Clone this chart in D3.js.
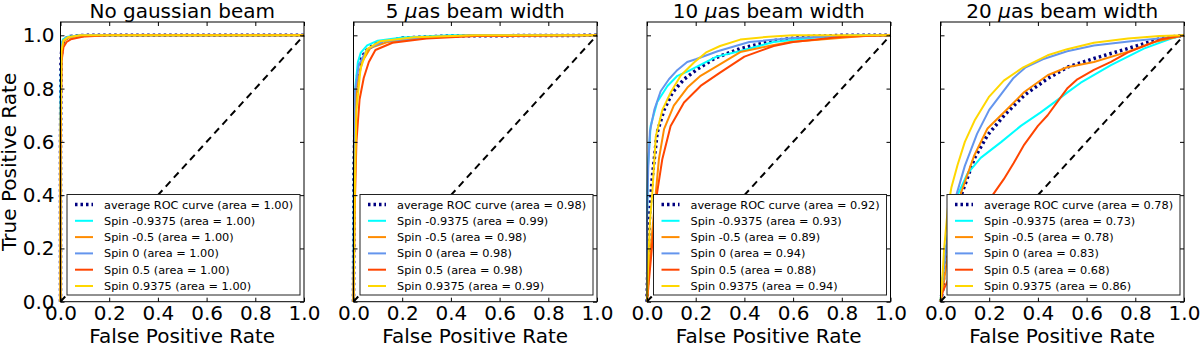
<!DOCTYPE html>
<html>
<head>
<meta charset="utf-8">
<script src="https://cdn.jsdelivr.net/npm/d3@7"></script>
<style>
  body { margin: 0; background: #fff; }
  svg { display: block; font-family: "DejaVu Sans", sans-serif; }
</style>
</head>
<body>
<svg id="chart" width="1200" height="350"></svg>
<script>
// panel titles (the "μ" is set in italics like matplotlib mathtext)
var panelTitles = [
    ["No gaussian beam"],
    ["5 ", "μ", "as beam width"],
    ["10 ", "μ", "as beam width"],
    ["20 ", "μ", "as beam width"]
];

var seriesLabels = ["average ROC curve", "Spin -0.9375", "Spin -0.5", "Spin 0", "Spin 0.5", "Spin 0.9375"];
var seriesColors = ["#000080", "#00ffff", "#ff8c00", "#6495ed", "#ff4500", "#ffd700"];

// area under curve per panel, same order as seriesLabels
var areas = [
    [1.00, 1.00, 1.00, 1.00, 1.00, 1.00],
    [0.98, 0.99, 0.98, 0.98, 0.98, 0.99],
    [0.92, 0.93, 0.89, 0.94, 0.88, 0.94],
    [0.78, 0.73, 0.78, 0.83, 0.68, 0.86]
];

var xTicks = [0, 0.2, 0.4, 0.6, 0.8, 1.0];
var yTicks = [0, 0.2, 0.4, 0.6, 0.8, 1.0];

// [fpr, tpr] points
var rocNoBeam = [
    [[0,0],[0,0.6],[0.002,0.9],[0.006,0.96],[0.015,0.985],[0.04,0.996],[0.1,1],[1,1]],
    [[0,0],[0,0.75],[0.003,0.96],[0.01,0.985],[0.03,0.995],[0.08,1],[1,1]],
    [[0,0],[0,0.6],[0.004,0.93],[0.012,0.975],[0.03,0.99],[0.08,0.998],[0.2,1],[1,1]],
    [[0,0],[0,0.7],[0.003,0.95],[0.01,0.98],[0.03,0.993],[0.08,1],[1,1]],
    [[0,0],[0,0.5],[0.004,0.9],[0.012,0.955],[0.025,0.975],[0.042,0.985],[0.1,0.996],[0.2,1],[1,1]],
    [[0,0],[0,0.6],[0.004,0.94],[0.012,0.98],[0.03,0.993],[0.08,1],[1,1]]
];

var roc5 = [
    [[0,0],[0.002,0.5],[0.008,0.75],[0.018,0.86],[0.035,0.92],[0.06,0.95],[0.1,0.972],[0.2,0.99],[0.4,0.998],[1,1]],
    [[0,0],[0.002,0.6],[0.008,0.81],[0.018,0.9],[0.03,0.935],[0.056,0.962],[0.1,0.98],[0.2,0.992],[0.4,1],[1,1]],
    [[0,0],[0.004,0.55],[0.012,0.8],[0.035,0.9],[0.07,0.953],[0.14,0.975],[0.3,0.992],[0.5,1],[1,1]],
    [[0,0],[0.002,0.55],[0.005,0.78],[0.022,0.89],[0.056,0.948],[0.125,0.978],[0.3,0.993],[0.5,1],[1,1]],
    [[0,0],[0.005,0.35],[0.012,0.6],[0.025,0.76],[0.042,0.84],[0.063,0.9],[0.09,0.945],[0.16,0.972],[0.3,0.988],[0.5,0.997],[1,1]],
    [[0,0],[0.006,0.45],[0.012,0.72],[0.029,0.875],[0.056,0.948],[0.11,0.978],[0.25,0.993],[0.5,1],[1,1]]
];

var roc10 = [
    [[0,0],[0.005,0.2],[0.012,0.35],[0.022,0.47],[0.042,0.636],[0.07,0.72],[0.104,0.785],[0.152,0.835],[0.207,0.873],[0.28,0.915],[0.383,0.95],[0.52,0.98],[0.65,0.995],[0.8,1],[1,1]],
    [[0,0],[0,0.3],[0.004,0.51],[0.015,0.66],[0.042,0.75],[0.084,0.81],[0.125,0.848],[0.177,0.869],[0.286,0.92],[0.38,0.94],[0.52,0.975],[0.7,0.993],[0.85,1],[1,1]],
    [[0,0],[0.01,0.15],[0.029,0.337],[0.049,0.536],[0.07,0.648],[0.11,0.736],[0.166,0.804],[0.22,0.848],[0.289,0.885],[0.383,0.937],[0.5,0.96],[0.588,0.975],[0.79,0.99],[0.9,0.998],[1,1]],
    [[0,0],[0,0.3],[0.005,0.5],[0.012,0.64],[0.03,0.72],[0.056,0.79],[0.09,0.835],[0.125,0.87],[0.165,0.9],[0.2,0.91],[0.29,0.94],[0.42,0.975],[0.6,0.99],[0.8,0.998],[1,1]],
    [[0,0],[0.01,0.1],[0.025,0.25],[0.04,0.4],[0.063,0.536],[0.097,0.66],[0.152,0.748],[0.22,0.81],[0.3,0.86],[0.4,0.92],[0.52,0.96],[0.6,0.975],[0.8,0.995],[1,1]],
    [[0,0],[0.005,0.15],[0.012,0.3],[0.022,0.41],[0.036,0.62],[0.063,0.72],[0.097,0.785],[0.138,0.848],[0.193,0.898],[0.245,0.937],[0.3,0.96],[0.383,0.984],[0.5,0.995],[0.6,1],[1,1]]
];

var roc20 = [
    [[0,0],[0.01,0.05],[0.015,0.13],[0.03,0.22],[0.06,0.33],[0.09,0.413],[0.139,0.538],[0.193,0.625],[0.262,0.7],[0.344,0.775],[0.44,0.838],[0.52,0.88],[0.63,0.913],[0.768,0.95],[0.905,0.988],[1,1]],
    [[0,0],[0.01,0.1],[0.03,0.25],[0.07,0.4],[0.11,0.48],[0.165,0.54],[0.25,0.6],[0.33,0.66],[0.41,0.71],[0.47,0.75],[0.52,0.785],[0.576,0.822],[0.7,0.888],[0.835,0.95],[0.947,0.988],[1,1]],
    [[0,0],[0.015,0.08],[0.04,0.25],[0.086,0.413],[0.139,0.55],[0.193,0.65],[0.262,0.712],[0.344,0.787],[0.44,0.85],[0.52,0.88],[0.63,0.9],[0.768,0.938],[0.878,0.975],[1,1]],
    [[0,0],[0.01,0.1],[0.03,0.25],[0.065,0.4],[0.1,0.51],[0.15,0.63],[0.2,0.72],[0.25,0.78],[0.3,0.84],[0.35,0.88],[0.42,0.91],[0.52,0.94],[0.63,0.962],[0.8,0.98],[0.92,0.99],[1,1]],
    [[0,0],[0.01,0.04],[0.03,0.08],[0.1,0.2],[0.16,0.3],[0.214,0.4],[0.26,0.46],[0.3,0.52],[0.344,0.59],[0.4,0.66],[0.44,0.7],[0.48,0.75],[0.52,0.8],[0.562,0.835],[0.63,0.87],[0.7,0.9],[0.768,0.935],[0.905,0.985],[1,1]],
    [[0,0],[0.005,0.05],[0.015,0.2],[0.03,0.35],[0.045,0.43],[0.07,0.513],[0.1,0.6],[0.14,0.68],[0.2,0.77],[0.26,0.83],[0.34,0.88],[0.44,0.925],[0.52,0.948],[0.63,0.972],[0.77,0.988],[0.9,0.997],[1,1]]
];

var panelData = [rocNoBeam, roc5, roc10, roc20];

// layout
var panelLeft = [60.5, 353.5, 647, 940.5];
var panelWidth = 243.5;
var plotTop = 22, plotBottom = 301.7;

var svg = d3.select('#chart');
var yScale = d3.scaleLinear().domain([0, 1.05]).range([plotBottom, plotTop]);

panelData.forEach(function(curves, p) {
    var left = panelLeft[p];
    var xScale = d3.scaleLinear().domain([0, 1]).range([left, left + panelWidth]);
    var g = svg.append('g');

    var line = d3.line()
        .x(function(d) { return xScale(d[0]); })
        .y(function(d) { return yScale(d[1]); });

    // curves: average first, then each spin
    curves.forEach(function(pts, i) {
        var path = g.append('path')
            .attr('d', line(pts))
            .attr('fill', 'none')
            .attr('stroke', seriesColors[i])
            .attr('stroke-linejoin', 'round');
        if (i === 0) {
            path.attr('stroke-width', 3.5).attr('stroke-dasharray', '2.5,3');
        } else {
            path.attr('stroke-width', 2);
        }
    });

    // chance diagonal
    g.append('path')
        .attr('d', line([[0, 0], [1, 1]]))
        .attr('stroke', '#000')
        .attr('stroke-width', 2)
        .attr('stroke-dasharray', '7,5');

    // axes, ticks pointing inward on all sides
    g.append('g')
        .attr('transform', 'translate(0,' + plotBottom + ')')
        .call(d3.axisBottom(xScale).tickValues(xTicks).tickSize(-4).tickPadding(4)
            .tickFormat(d3.format('.1f')));
    g.append('g')
        .attr('transform', 'translate(0,' + plotTop + ')')
        .call(d3.axisTop(xScale).tickValues(xTicks).tickSize(-4).tickFormat(''));
    g.append('g')
        .attr('transform', 'translate(' + left + ',0)')
        .call(d3.axisLeft(yScale).tickValues(yTicks).tickSize(-4).tickPadding(6)
            .tickFormat(p === 0 ? d3.format('.1f') : ''));
    g.append('g')
        .attr('transform', 'translate(' + (left + panelWidth) + ',0)')
        .call(d3.axisRight(yScale).tickValues(yTicks).tickSize(-4).tickFormat(''));

    g.selectAll('.domain').remove();
    g.selectAll('.tick line').attr('stroke', '#000');
    g.selectAll('.tick text')
        .attr('fill', '#000')
        .style('font-size', '20px')
        .style('font-family', '"DejaVu Sans", sans-serif');

    // legend, lower right
    var legW = 233, rowH = 16.3;
    var legX = left + panelWidth - 4 - legW;
    var legY = 194.5;
    var leg = g.append('g');
    leg.append('rect')
        .attr('x', legX).attr('y', legY)
        .attr('width', legW).attr('height', 100.5)
        .attr('fill', '#fff')
        .attr('stroke', '#222')
        .attr('stroke-width', 1);
    seriesLabels.forEach(function(label, i) {
        var cy = legY + 10 + i * rowH;
        var h = leg.append('line')
            .attr('x1', legX + 8).attr('x2', legX + 26)
            .attr('y1', cy).attr('y2', cy)
            .attr('stroke', seriesColors[i]);
        if (i === 0) {
            h.attr('stroke-width', 3.5).attr('stroke-dasharray', '2.5,3');
        } else {
            h.attr('stroke-width', 2);
        }
        leg.append('text')
            .attr('x', legX + 37).attr('y', cy)
            .attr('dy', '0.36em')
            .style('font-size', '11.3px')
            .text(label + ' (area = ' + areas[p][i].toFixed(2) + ')');
    });

    // frame
    g.append('rect')
        .attr('x', left).attr('y', plotTop)
        .attr('width', panelWidth).attr('height', plotBottom - plotTop)
        .attr('fill', 'none')
        .attr('stroke', '#000')
        .attr('stroke-width', 1);

    // title
    var title = g.append('text')
        .attr('x', left + panelWidth / 2).attr('y', 17.5)
        .attr('text-anchor', 'middle')
        .style('font-size', '20px');
    panelTitles[p].forEach(function(part) {
        title.append('tspan')
            .style('font-style', part === 'μ' ? 'italic' : 'normal')
            .text(part);
    });

    // x label
    g.append('text')
        .attr('x', left + panelWidth / 2).attr('y', 343)
        .attr('text-anchor', 'middle')
        .style('font-size', '20px')
        .text('False Positive Rate');
});

// y label (first panel only)
svg.append('text')
    .attr('transform', 'translate(16,' + ((plotTop + plotBottom) / 2) + ') rotate(-90)')
    .attr('text-anchor', 'middle')
    .style('font-size', '20px')
    .text('True Positive Rate');
</script>
</body>
</html>
